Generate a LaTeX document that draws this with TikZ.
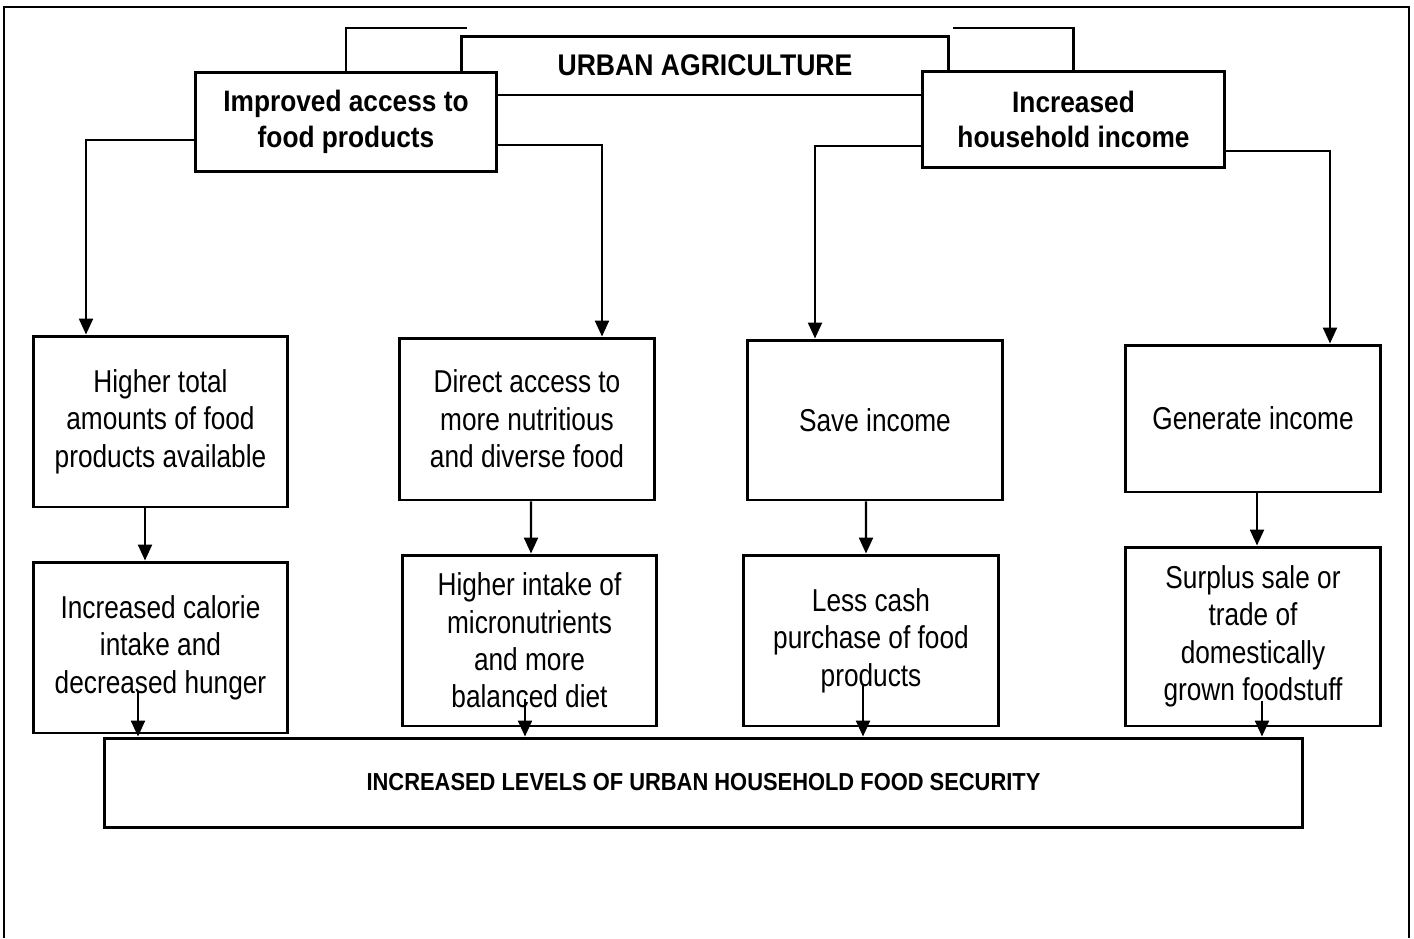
\documentclass[tikz,border=0pt]{standalone}
\usepackage{fontspec}
\newfontfamily\diagfont{Liberation Sans}[FakeStretch=0.83]
\newfontfamily\headfont{Liberation Sans}[FakeStretch=0.89]
\usetikzlibrary{arrows.meta}

\begin{document}
\begin{tikzpicture}[
  x=0.02cm, y=-0.02cm,
  box/.style={draw, line width=1.7pt, fill=white, align=center, inner sep=2pt,
    font=\diagfont\fontsize{18}{21.3}\selectfont},
  head/.style={box, font=\headfont\bfseries\fontsize{16.8}{20.4}\selectfont},
  link/.style={->, line width=1.3pt},
  >={Triangle[length=3.2mm, width=2.8mm]}
]
\useasboundingbox (0,0) rectangle (1414,938);
\draw[line width=1.4pt] (4,938) -- (4,7) -- (1409,7) -- (1409,938);

\node[head, minimum width=9.76cm, minimum height=1.18cm, font=\headfont\bfseries\fontsize{17}{20}\selectfont] (ua) at (705,65.5) {URBAN AGRICULTURE};
\node[head, minimum width=6.04cm, minimum height=1.98cm] (imp) at (346,122) {Improved access to\\food products};
\node[head, minimum width=6.06cm, minimum height=1.92cm] (inc) at (1073.5,119.5) {Increased\\household income};

\node[box, minimum width=5.1cm,  minimum height=3.42cm] (b1) at (160.5,421.5) {Higher total\\amounts of food\\products available};
\node[box, minimum width=5.12cm, minimum height=3.24cm] (b2) at (527,419) {Direct access to\\more nutritious\\and diverse food};
\node[box, minimum width=5.12cm, minimum height=3.2cm]  (b3) at (875,420) {Save income};
\node[box, minimum width=5.12cm, minimum height=2.94cm] (b4) at (1253,418.5) {Generate income};

\node[box, minimum width=5.1cm,  minimum height=3.42cm] (c1) at (160.5,647.5) {Increased calorie\\intake and\\decreased hunger};
\node[box, minimum width=5.1cm,  minimum height=3.42cm] (c2) at (529.5,640.5) {Higher intake of\\micronutrients\\and more\\balanced diet};
\node[box, minimum width=5.12cm, minimum height=3.42cm] (c3) at (871,640.5) {Less cash\\purchase of food\\products};
\node[box, minimum width=5.12cm, minimum height=3.58cm] (c4) at (1253,636.5) {Surplus sale or\\trade of\\domestically\\grown foodstuff};

\node[box, minimum width=23.98cm, minimum height=1.78cm, font=\headfont\bfseries\fontsize{14}{17}\selectfont] (fs) at (703.5,782.5) {INCREASED LEVELS OF URBAN HOUSEHOLD FOOD SECURITY};

\coordinate (lb) at (467,28);
\coordinate (rb) at (953,28);
\draw[line width=1.3pt] (imp.north) |- (lb);
\draw[line width=1.3pt] (inc.north) |- (rb);

\draw[link] ([yshift=-0.36cm]imp.west) -| ([xshift=-1.49cm]b1.north);
\draw[link] ([yshift=-0.46cm]imp.east) -| ([xshift=1.5cm]b2.north);
\draw[link] ([yshift=-0.53cm]inc.west) -| ([xshift=-1.2cm]b3.north);
\draw[link] ([yshift=-0.63cm]inc.east) -| ([xshift=1.54cm]b4.north);

\draw[link] ([xshift=-0.31cm]b1.south) -- ([xshift=-0.31cm]c1.north);
\draw[link] ([xshift=0.08cm]b2.south) -- ([xshift=0.03cm]c2.north);
\draw[link] ([xshift=-0.18cm]b3.south) -- ([xshift=-0.1cm]c3.north);
\draw[link] ([xshift=0.08cm]b4.south) -- ([xshift=0.08cm]c4.north);

\foreach \n/\dx/\dy in {c1/-0.45/0.86, c2/-0.09/0.56, c3/-0.16/0.86, c4/0.18/0.52}
  \draw[link] ([xshift=\dx cm, yshift=\dy cm]\n.south) coordinate (t) -- (t |- fs.north);
\end{tikzpicture}
\end{document}
